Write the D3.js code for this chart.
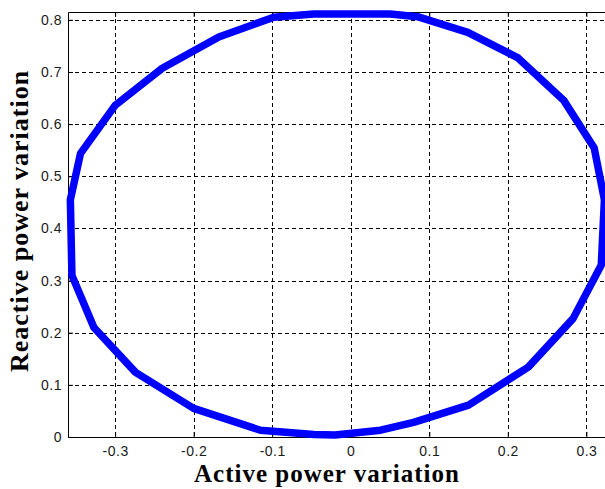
<!DOCTYPE html>
<html lang="en">
<head>
    <meta charset="UTF-8">
    <title>Active / reactive power variation</title>
    <style>
        body {
            margin: 0;
            padding: 0;
            background: #fff;
            overflow: hidden;
        }
        .tick text {
            font-family: 'Liberation Sans', Arial, sans-serif;
            font-size: 14px;
            letter-spacing: 0.5px;
            fill: #1a1a1a;
        }
        .axis-title {
            font-family: 'Liberation Serif', 'Times New Roman', serif;
            font-weight: bold;
            font-size: 25px;
            letter-spacing: 1px;
            fill: #000;
        }
        .grid line {
            stroke: #000;
            stroke-width: 1;
            stroke-dasharray: 4,3;
        }
    </style>
</head>
<body>
    <svg id="chart"></svg>

    <script src="https://d3js.org/d3.v7.min.js"></script>
    <script>
        // values (active, reactive), going round the loop
        const activePower = [
            -0.02, -0.047, -0.115, -0.2, -0.274, -0.327, -0.355, -0.357,
            -0.344, -0.30, -0.24, -0.168, -0.098, -0.047, 0.05, 0.085,
            0.149, 0.213, 0.271, 0.310, 0.323, 0.319, 0.283, 0.226,
            0.150, 0.08, 0.038, -0.02
        ];
        const reactivePower = [
            0.004, 0.005, 0.013, 0.055, 0.124, 0.21, 0.31, 0.455,
            0.544, 0.636, 0.707, 0.767, 0.805, 0.811, 0.811, 0.806,
            0.776, 0.727, 0.646, 0.554, 0.455, 0.33, 0.227, 0.134,
            0.061, 0.028, 0.013, 0.004
        ];
        const xTicks = [-0.3, -0.2, -0.1, 0, 0.1, 0.2, 0.3];
        const yTicks = [0, 0.1, 0.2, 0.3, 0.4, 0.5, 0.6, 0.7, 0.8];

        const W = 605, H = 489;
        const margin = {top: 12, right: -1, bottom: 52, left: 68};
        const width = W - margin.left - margin.right;
        const height = H - margin.top - margin.bottom;

        const svg = d3.select("#chart")
            .attr("width", W)
            .attr("height", H);

        const g = svg.append("g")
            .attr("transform", `translate(${margin.left},${margin.top})`);

        const x = d3.scaleLinear().domain([-0.36, 0.325]).range([0, width]);
        const y = d3.scaleLinear().domain([0, 0.815]).range([height, 0]);

        const fmt = d => d === 0 ? "0" : d.toFixed(1); // plain hyphen like matlab

        // dashed grid
        g.append("g")
            .attr("class", "grid")
            .selectAll("line")
            .data(xTicks)
          .enter().append("line")
            .attr("x1", d => Math.round(x(d)) + 0.5)
            .attr("x2", d => Math.round(x(d)) + 0.5)
            .attr("y1", 0)
            .attr("y2", height);

        g.append("g")
            .attr("class", "grid")
            .selectAll("line")
            .data(yTicks)
          .enter().append("line")
            .attr("x1", 0)
            .attr("x2", width)
            .attr("y1", d => Math.round(y(d)) + 0.5)
            .attr("y2", d => Math.round(y(d)) + 0.5);

        // axes with inward ticks
        const xAxis = d3.axisBottom(x).tickValues(xTicks).tickSizeInner(-5).tickSizeOuter(0)
            .tickPadding(9).tickFormat(fmt);
        const yAxis = d3.axisLeft(y).tickValues(yTicks).tickSizeInner(-5).tickSizeOuter(0)
            .tickPadding(6).tickFormat(fmt);

        g.append("g")
            .attr("transform", `translate(0,${height})`)
            .call(xAxis)
            .call(a => a.select(".domain").attr("stroke", "#000"));

        g.append("g")
            .call(yAxis)
            .call(a => a.select(".domain").attr("stroke", "#000"));

        g.append("g")
            .call(d3.axisTop(x).tickValues(xTicks).tickSizeInner(-5).tickSizeOuter(0).tickFormat(""))
            .call(a => a.select(".domain").attr("stroke", "#000"));

        // the loop
        const pts = activePower.map((a, i) => [a, reactivePower[i]]);
        const line = d3.line()
            .x(d => x(d[0]))
            .y(d => y(d[1]));

        g.append("path")
            .datum(pts)
            .attr("d", line)
            .attr("fill", "none")
            .attr("stroke", "#0000ff")
            .attr("stroke-width", 7.5)
            .attr("stroke-linejoin", "round")
            .attr("stroke-linecap", "round");

        // titles
        svg.append("text")
            .attr("class", "axis-title")
            .attr("x", 327)
            .attr("y", 482)
            .attr("text-anchor", "middle")
            .text("Active power variation");

        svg.append("text")
            .attr("class", "axis-title")
            .attr("transform", "translate(28,221) rotate(-90)")
            .attr("text-anchor", "middle")
            .style("font-size", "26px")
            .text("Reactive power variation");
    </script>
</body>
</html>
